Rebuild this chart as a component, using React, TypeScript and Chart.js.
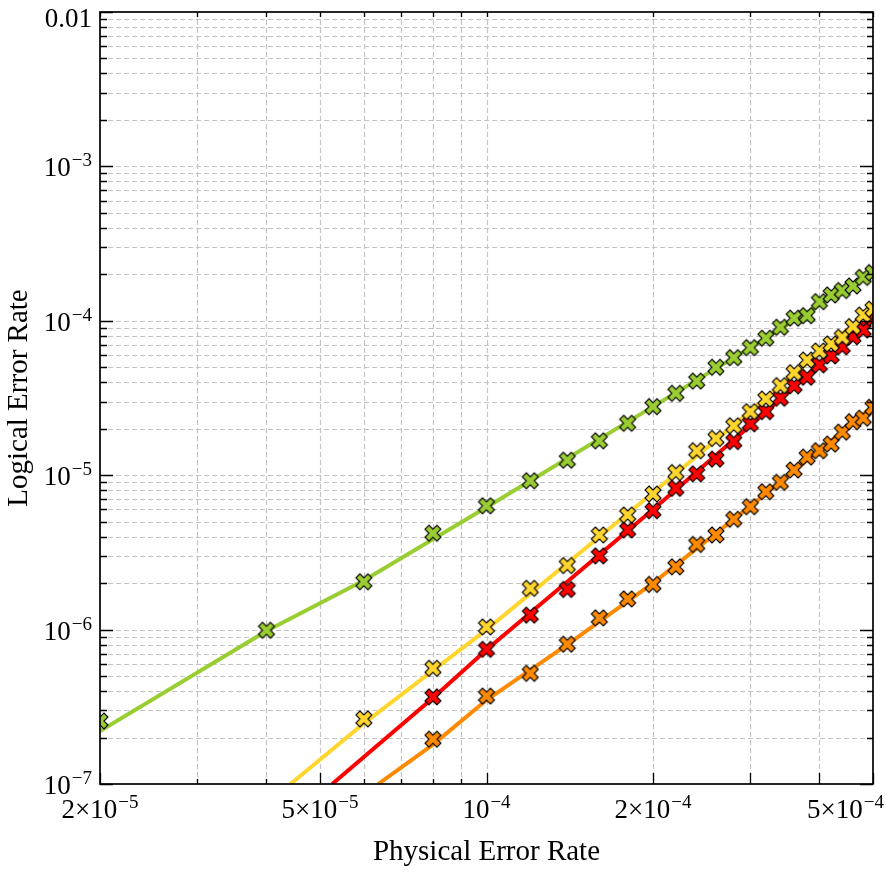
import React, { useEffect, useRef } from 'react';
import { Chart, registerables } from 'chart.js';

Chart.register(...registerables);

// ---------------- data ----------------
const greenRates = [2e-5, 4e-5, 6e-5, 8e-5, 1e-4, 1.2e-4, 1.4e-4, 1.6e-4, 1.8e-4, 2e-4, 2.2e-4, 2.4e-4, 2.6e-4, 2.8e-4, 3e-4, 3.2e-4, 3.4e-4, 3.6e-4, 3.8e-4, 4e-4, 4.2e-4, 4.4e-4, 4.6e-4, 4.8e-4, 5e-4];
const greenLogical = [2.56e-7, 9.9e-7, 2.04e-6, 4.21e-6, 6.34e-6, 9.2e-6, 1.25e-5, 1.67e-5, 2.17e-5, 2.78e-5, 3.39e-5, 4.07e-5, 5.0e-5, 5.77e-5, 6.7e-5, 7.71e-5, 9.08e-5, 1.04e-4, 1.08e-4, 1.33e-4, 1.47e-4, 1.57e-4, 1.68e-4, 1.91e-4, 2.05e-4];

const yellowRates = [6e-5, 8e-5, 1e-4, 1.2e-4, 1.4e-4, 1.6e-4, 1.8e-4, 2e-4, 2.2e-4, 2.4e-4, 2.6e-4, 2.8e-4, 3e-4, 3.2e-4, 3.4e-4, 3.6e-4, 3.8e-4, 4e-4, 4.2e-4, 4.4e-4, 4.6e-4, 4.8e-4, 5e-4];
const yellowLogical = [2.64e-7, 5.61e-7, 1.04e-6, 1.85e-6, 2.6e-6, 4.1e-6, 5.52e-6, 7.55e-6, 1.04e-5, 1.44e-5, 1.73e-5, 2.09e-5, 2.58e-5, 3.11e-5, 3.8e-5, 4.61e-5, 5.57e-5, 6.37e-5, 7.08e-5, 7.81e-5, 9.16e-5, 1.09e-4, 1.19e-4];

const redRates = [8e-5, 1e-4, 1.2e-4, 1.4e-4, 1.6e-4, 1.8e-4, 2e-4, 2.2e-4, 2.4e-4, 2.6e-4, 2.8e-4, 3e-4, 3.2e-4, 3.4e-4, 3.6e-4, 3.8e-4, 4e-4, 4.2e-4, 4.4e-4, 4.6e-4, 4.8e-4, 5e-4];
const redLogical = [3.67e-7, 7.45e-7, 1.24e-6, 1.82e-6, 3.0e-6, 4.41e-6, 5.89e-6, 8.22e-6, 1.02e-5, 1.27e-5, 1.65e-5, 2.15e-5, 2.58e-5, 3.15e-5, 3.79e-5, 4.31e-5, 5.18e-5, 5.92e-5, 6.79e-5, 7.88e-5, 8.71e-5, 1.04e-4];

const orangeRates = [8e-5, 1e-4, 1.2e-4, 1.4e-4, 1.6e-4, 1.8e-4, 2e-4, 2.2e-4, 2.4e-4, 2.6e-4, 2.8e-4, 3e-4, 3.2e-4, 3.4e-4, 3.6e-4, 3.8e-4, 4e-4, 4.2e-4, 4.4e-4, 4.6e-4, 4.8e-4, 5e-4];
const orangeLogical = [1.95e-7, 3.71e-7, 5.21e-7, 8.04e-7, 1.19e-6, 1.58e-6, 1.96e-6, 2.55e-6, 3.56e-6, 4.1e-6, 5.18e-6, 6.25e-6, 7.82e-6, 8.99e-6, 1.08e-5, 1.31e-5, 1.44e-5, 1.59e-5, 1.9e-5, 2.22e-5, 2.34e-5, 2.75e-5];

// fitted curves
const greenFitX = [2e-5, 4e-5, 6e-5, 1e-4, 2e-4, 3e-4, 4e-4, 5e-4];
const greenFitY = [2.2e-7, 9.8e-7, 2.08e-6, 6.2e-6, 2.78e-5, 6.7e-5, 1.27e-4, 2.1e-4];
const yellowFitX = [4.42e-5, 6e-5, 1e-4, 2e-4, 3e-4, 4e-4, 5e-4];
const yellowFitY = [1.0e-7, 2.47e-7, 1.0e-6, 7.7e-6, 2.6e-5, 6.2e-5, 1.2e-4];
const redFitX = [5.26e-5, 8e-5, 1e-4, 2e-4, 3e-4, 4e-4, 5e-4];
const redFitY = [1.0e-7, 3.6e-7, 7.4e-7, 6.0e-6, 2.1e-5, 5.2e-5, 1.1e-4];
const orangeFitX = [6.37e-5, 8e-5, 1e-4, 1.4e-4, 2e-4, 3e-4, 4e-4, 5e-4];
const orangeFitY = [1.0e-7, 1.8e-7, 3.5e-7, 8.0e-7, 2.0e-6, 6.3e-6, 1.45e-5, 2.8e-5];

const seriesColors = ['#9ACD32', '#FFD52E', '#FF0000', '#FF8A00'];

// axis ticks
const xMin = 2e-5, xMax = 5e-4, yMin = 1e-7, yMax = 1e-2;
const xTickValues = [2e-5, 5e-5, 1e-4, 2e-4, 5e-4];
const xTickMantissas = ['2×', '5×', '', '2×', '5×'];
const xTickExponents = ['−5', '−5', '−4', '−4', '−4'];
const yTickValues = [1e-7, 1e-6, 1e-5, 1e-4, 1e-3, 1e-2];
const yTickBases = ['10', '10', '10', '10', '10', '0.01'];
const yTickExponents = ['−7', '−6', '−5', '−4', '−3', ''];
const xGridValues = [3e-5, 4e-5, 5e-5, 6e-5, 7e-5, 8e-5, 9e-5, 1e-4, 2e-4, 3e-4, 4e-4];
const xLongTicks = [2e-5, 5e-5, 1e-4, 2e-4, 3e-4, 4e-4, 5e-4];
const yMinorMantissas = [2, 3, 4, 5, 6, 7, 8, 9];
const xTitle = 'Physical Error Rate';
const yTitle = 'Logical Error Rate';

const FONT = '"Liberation Serif", "Times New Roman", Times, serif';
const GRID_COLOR = '#c4c4c4';

function makeXMarker(color: string): HTMLCanvasElement {
  const S = 16;
  const pad = 2;
  const c = document.createElement('canvas');
  c.width = S + pad * 2;
  c.height = S + pad * 2;
  const g = c.getContext('2d')!;
  const pts = [[-0.25, -0.5], [0, -0.25], [0.25, -0.5], [0.5, -0.25], [0.25, 0], [0.5, 0.25], [0.25, 0.5], [0, 0.25], [-0.25, 0.5], [-0.5, 0.25], [-0.25, 0], [-0.5, -0.25]];
  g.translate(c.width / 2, c.height / 2);
  g.beginPath();
  pts.forEach(([px, py], i) => {
    if (i === 0) g.moveTo(px * S, py * S);
    else g.lineTo(px * S, py * S);
  });
  g.closePath();
  g.fillStyle = color;
  g.fill();
  g.lineWidth = 1.1;
  g.lineJoin = 'miter';
  g.strokeStyle = '#000';
  g.stroke();
  return c;
}

function drawSci(ctx: CanvasRenderingContext2D, base: string, exp: string, x: number, baseline: number, align: 'center' | 'right', maxRight: number) {
  ctx.font = `27px ${FONT}`;
  const wb = ctx.measureText(base).width;
  ctx.font = `19px ${FONT}`;
  const we = exp ? ctx.measureText(exp).width + 1 : 0;
  const total = wb + we;
  let start = align === 'center' ? x - total / 2 : x - total;
  if (start + total > maxRight) start = maxRight - total;
  ctx.textAlign = 'left';
  ctx.textBaseline = 'alphabetic';
  ctx.fillStyle = '#000';
  ctx.font = `27px ${FONT}`;
  ctx.fillText(base, start, baseline);
  if (exp) {
    ctx.font = `19px ${FONT}`;
    ctx.fillText(exp, start + wb + 1, baseline - 10);
  }
}

const axesPlugin = {
  id: 'mplAxes',
  beforeDatasetsDraw(chart: any) {
    const { ctx, chartArea: a, scales } = chart;
    const xs = scales.x, ys = scales.y;
    ctx.save();
    ctx.strokeStyle = GRID_COLOR;
    ctx.lineWidth = 1.2;
    ctx.setLineDash([5, 3]);
    for (const v of xGridValues) {
      const px = Math.round(xs.getPixelForValue(v)) + 0.5;
      ctx.beginPath();
      ctx.moveTo(px, a.top);
      ctx.lineTo(px, a.bottom);
      ctx.stroke();
    }
    for (let d = -7; d <= -3; d++) {
      const vals = [...yMinorMantissas.map((m) => m * Math.pow(10, d)), Math.pow(10, d)];
      for (const v of vals) {
        if (v <= yMin || v >= yMax) continue;
        const py = Math.round(ys.getPixelForValue(v)) + 0.5;
        ctx.beginPath();
        ctx.moveTo(a.left, py);
        ctx.lineTo(a.right, py);
        ctx.stroke();
      }
    }
    ctx.restore();
  },
  afterDatasetsDraw(chart: any) {
    const { ctx, chartArea: a, scales } = chart;
    const xs = scales.x, ys = scales.y;
    ctx.save();
    ctx.setLineDash([]);
    ctx.strokeStyle = '#000';
    // ticks
    ctx.lineWidth = 1.3;
    const allX = [xMin, ...xGridValues, xMax];
    for (const v of allX) {
      const px = Math.round(xs.getPixelForValue(v)) + 0.5;
      const long = xLongTicks.some((t) => Math.abs(t - v) / t < 1e-6);
      ctx.beginPath();
      ctx.moveTo(px, a.bottom);
      ctx.lineTo(px, a.bottom - (long ? 11 : 5));
      ctx.moveTo(px, a.top);
      ctx.lineTo(px, a.top + 5);
      ctx.stroke();
    }
    for (let d = -7; d <= -3; d++) {
      for (const m of yMinorMantissas) {
        const py = Math.round(ys.getPixelForValue(m * Math.pow(10, d))) + 0.5;
        ctx.beginPath();
        ctx.moveTo(a.left, py);
        ctx.lineTo(a.left + 7, py);
        ctx.moveTo(a.right, py);
        ctx.lineTo(a.right - 6, py);
        ctx.stroke();
      }
    }
    for (const v of yTickValues) {
      const py = Math.round(ys.getPixelForValue(v)) + 0.5;
      ctx.beginPath();
      ctx.moveTo(a.left, py);
      ctx.lineTo(a.left + 13, py);
      ctx.moveTo(a.right, py);
      ctx.lineTo(a.right - 13, py);
      ctx.stroke();
    }
    // frame
    ctx.lineWidth = 1.7;
    ctx.strokeRect(a.left, a.top, a.right - a.left, a.bottom - a.top);

    // tick labels
    xTickValues.forEach((v, i) => {
      const px = xs.getPixelForValue(v);
      drawSci(ctx, xTickMantissas[i] + '10', xTickExponents[i], px, a.bottom + 34, 'center', 884);
    });
    yTickValues.forEach((v, i) => {
      const py = ys.getPixelForValue(v);
      const baseline = Math.max(py + 10, 26.5);
      drawSci(ctx, yTickBases[i], yTickExponents[i], 92, baseline, 'right', 92);
    });

    // axis titles
    ctx.fillStyle = '#000';
    ctx.font = `29px ${FONT}`;
    ctx.textAlign = 'center';
    ctx.textBaseline = 'alphabetic';
    ctx.fillText(xTitle, (a.left + a.right) / 2, 860);
    ctx.translate(27, (a.top + a.bottom) / 2);
    ctx.rotate(-Math.PI / 2);
    ctx.fillText(yTitle, 0, 0);
    ctx.restore();
  },
};

export default function App() {
  const ref = useRef<HTMLCanvasElement>(null);
  useEffect(() => {
    const canvas = ref.current;
    if (!canvas) return;
    const markers = seriesColors.map((c) => makeXMarker(c));
    const pts = (xs: number[], ys: number[]) => xs.map((x, i) => ({ x, y: ys[i] }));
    const fits = [
      pts(greenFitX, greenFitY),
      pts(yellowFitX, yellowFitY),
      pts(redFitX, redFitY),
      pts(orangeFitX, orangeFitY),
    ];
    const measured = [
      pts(greenRates, greenLogical),
      pts(yellowRates, yellowLogical),
      pts(redRates, redLogical),
      pts(orangeRates, orangeLogical),
    ];
    const datasets: any[] = [];
    fits.forEach((d, i) => {
      datasets.push({
        data: d,
        borderColor: seriesColors[i],
        borderWidth: 4,
        pointRadius: 0,
        tension: 0,
        fill: false,
        clip: 0,
        order: 2,
      });
    });
    measured.forEach((d, i) => {
      datasets.push({
        data: d,
        showLine: false,
        pointStyle: markers[i],
        pointRadius: 8,
        borderColor: '#000',
        backgroundColor: seriesColors[i],
        clip: 0,
        order: 1,
      });
    });
    const chart = new Chart(canvas, {
      type: 'line',
      data: { datasets },
      options: {
        animation: false,
        responsive: false,
        events: [],
        layout: { padding: { left: 0, top: 12, right: 13, bottom: 0 } },
        plugins: { legend: { display: false }, tooltip: { enabled: false } },
        scales: {
          x: {
            type: 'logarithmic',
            min: xMin,
            max: xMax,
            grid: { display: false },
            border: { display: false },
            ticks: { display: false },
            afterFit: (s: any) => {
              s.height = 102;
            },
          },
          y: {
            type: 'logarithmic',
            min: yMin,
            max: yMax,
            grid: { display: false },
            border: { display: false },
            ticks: { display: false },
            afterFit: (s: any) => {
              s.width = 100;
            },
          },
        },
      } as any,
      plugins: [axesPlugin],
    });
    return () => chart.destroy();
  }, []);
  return (
    <div style={{ position: 'fixed', left: 0, top: 0, width: 886, height: 886, background: '#fff' }}>
      <canvas ref={ref} width={886} height={886} style={{ display: 'block' }} />
    </div>
  );
}
